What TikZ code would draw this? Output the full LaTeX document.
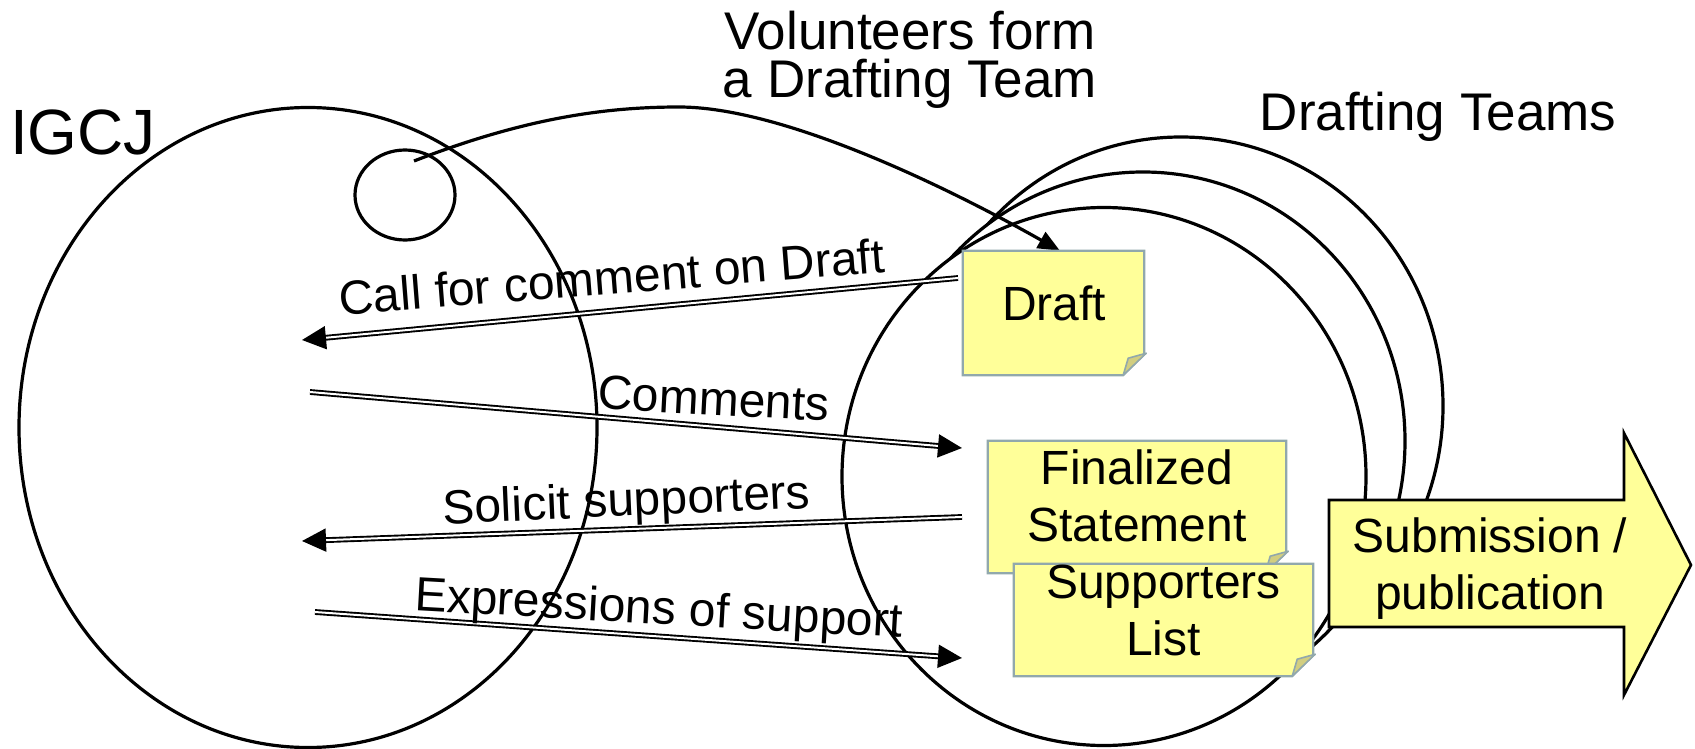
\documentclass[tikz,border=0pt]{standalone}
\usepackage{fontspec}
\setmainfont{Liberation Sans}
\usetikzlibrary{arrows.meta,shapes.geometric}
\definecolor{noteyellow}{RGB}{255,255,153}
\definecolor{noteedge}{RGB}{145,168,172}
\definecolor{notefold}{RGB}{210,206,128}
\newcommand\drawnote[1]{%
  \draw[noteshape] (#1.north west) -- (#1.north east) -- ([yshift=21pt]#1.south east) -- ([xshift=-21pt]#1.south east) -- (#1.south west) -- cycle;
  \draw[notefoldshape] ([xshift=-21pt]#1.south east) -- ([xshift=-16pt,yshift=17pt]#1.south east) -- ([xshift=2pt,yshift=22pt]#1.south east) -- cycle;}
\begin{document}
\begin{tikzpicture}[x=1pt,y=-1pt,
  outline/.style={draw, ellipse, inner sep=0pt, line width=3.2pt},
  team/.style={outline, fill=white},
  link/.style={line width=3.2pt, -{Triangle[length=22pt,width=18pt]}},
  flow/.style={double=white, double distance=2pt, line width=1.9pt, -{Triangle[length=24pt,width=23pt]}},
  lbl/.style={font=\fontsize{48}{54}\selectfont, inner sep=0pt, anchor=base},
  heading/.style={font=\fontsize{53}{48}\selectfont, inner sep=0pt, align=center},
  notebox/.style={rectangle, inner sep=0pt, draw=none},
  noteshape/.style={fill=noteyellow, draw=noteedge, line width=2.2pt},
  notefoldshape/.style={fill=notefold, draw=noteedge, line width=1.6pt, line join=round},
  notetext/.style={font=\fontsize{48}{57}\selectfont, inner sep=0pt, align=center},
  bigarrow/.style={fill=noteyellow, draw=black, line width=2.6pt},
]
\useasboundingbox (0,0) rectangle (1695,749);

% circles
\node[outline, minimum width=578pt, minimum height=640pt] (igcj) at (308,427.5) {};
\node[outline, minimum width=100pt, minimum height=90pt] (vol) at (405,195) {};
\node[team, minimum width=524pt, minimum height=538pt] (teamback) at (1181,406) {};
\node[team, minimum width=524pt, minimum height=538pt] (teammid) at (1143,441) {};
\node[team, minimum width=524pt, minimum height=538pt] (teamfront) at (1104,476.5) {};

% note frames (invisible placeholders)
\node[notebox, minimum width=181pt, minimum height=124pt] (draft) at (1053.5,313) {};
\node[notebox, minimum width=298pt, minimum height=132pt] (final) at (1137,507) {};
\node[notebox, minimum width=299pt, minimum height=112pt] (supp) at (1163.5,620) {};

% volunteer curve
\coordinate (vstart) at (414,161);
\coordinate (vpeak) at (679,107);
\draw[link] (vstart) .. controls (520,120) and (600,107) .. (vpeak) .. controls (780,107) and (940,183) .. ([xshift=6.5pt]draft.north);

% flows
\coordinate (callS) at (958,278); \coordinate (callE) at (302,340);
\coordinate (comS) at (310,392); \coordinate (comE) at (962,448);
\coordinate (solS) at (962,517); \coordinate (solE) at (302,541);
\coordinate (expS) at (315,612); \coordinate (expE) at (962,658);
\draw[flow] (callS) -- (callE);
\draw[flow] (comS) -- (comE);
\draw[flow] (solS) -- (solE);
\draw[flow] (expS) -- (expE);

\node[lbl, rotate=4.5] (callL) at (613,294) {Call for comment on Draft};
\node[lbl, rotate=-3] (comL) at (713,415) {Comments};
\node[lbl, rotate=2.5] (solL) at (627,516) {Solicit supporters};
\node[lbl, rotate=-3.2] (expL) at (658,624) {Expressions of support};

% titles
\node[heading] (volT) at (910,60) {Volunteers form\\a Drafting Team};
\node[heading, anchor=base] (teamsT) at (1438,131) {Drafting Teams};
\node[font=\fontsize{64}{64}\selectfont, inner sep=0pt, anchor=base west] (igcjT) at (10,155) {IGCJ};

% notes
\drawnote{draft}
\node[notetext, anchor=base] (draftT) at (1054,320) {Draft};
\drawnote{final}
\node[notetext] (finalT) at (1137,496) {Finalized\\Statement};
\drawnote{supp}
\node[notetext] (suppT) at (1163.5,610) {Supporters\\List};

% submission arrow
\draw[bigarrow] (1329,500) -- (1624,500) -- (1624,433) -- (1691,565) -- (1624,695) -- (1624,627) -- (1329,627) -- cycle;
\node[notetext] (subT) at (1490,569) {Submission /\\publication};
\end{tikzpicture}
\end{document}
